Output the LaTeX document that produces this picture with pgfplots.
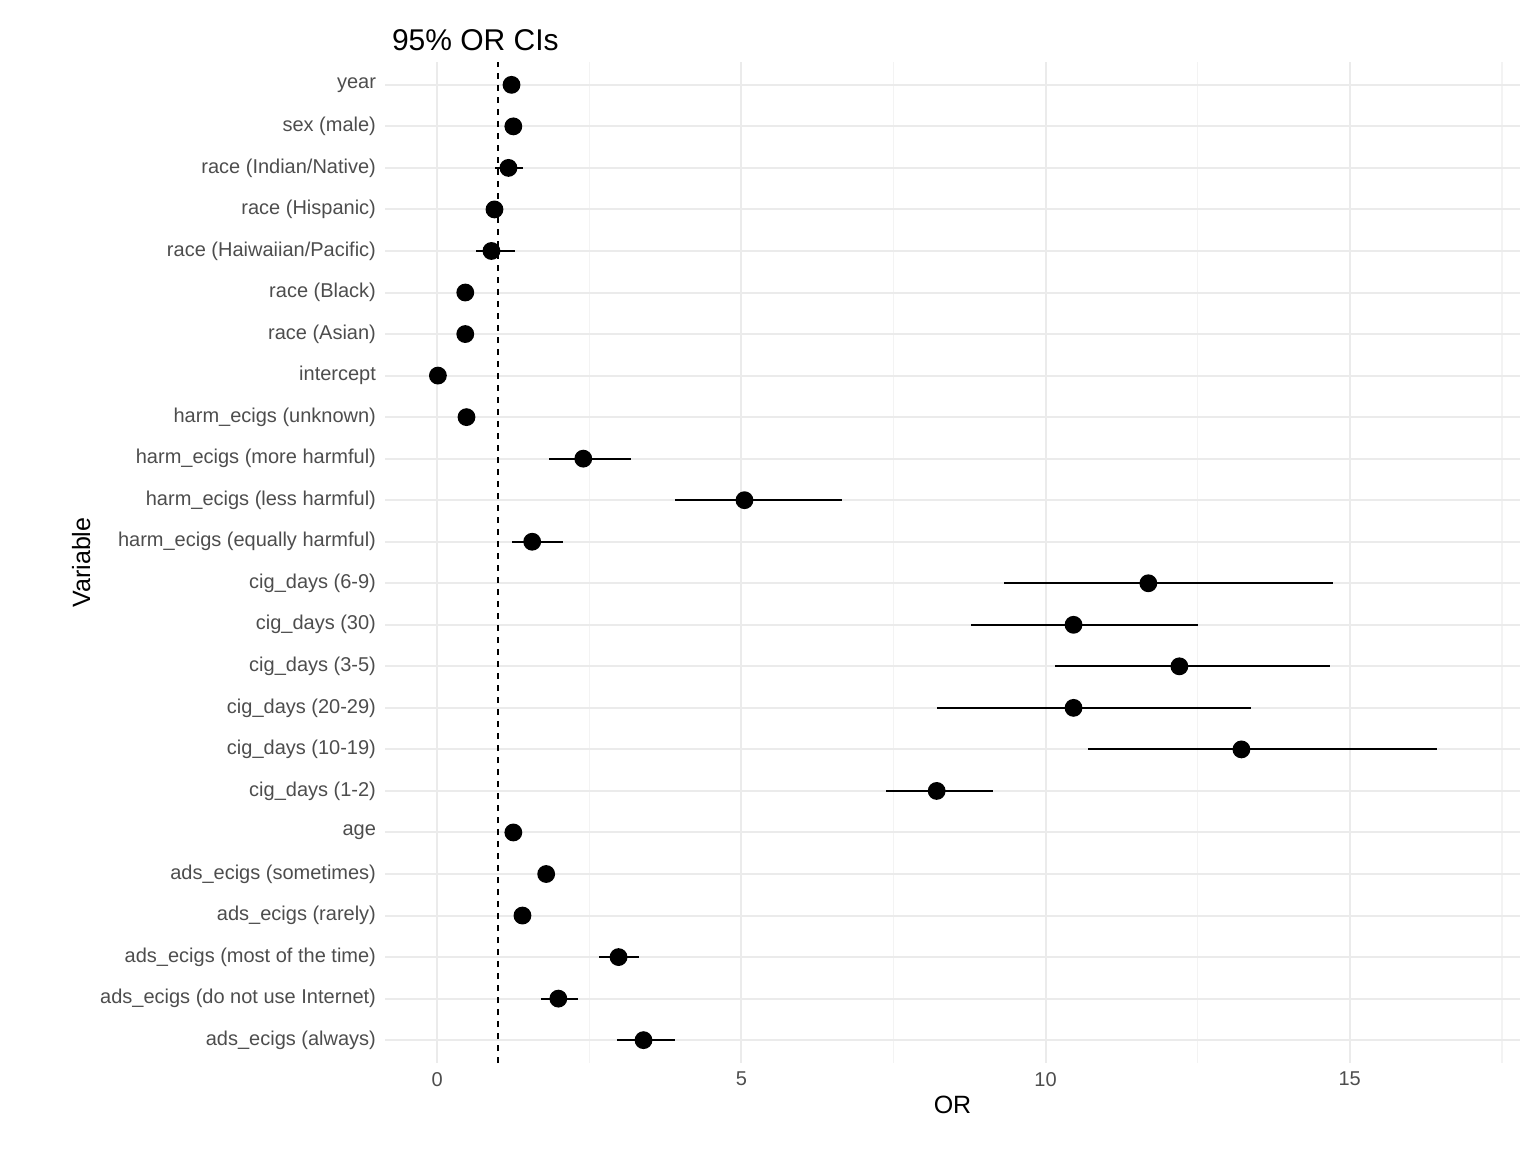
\documentclass[border=0pt]{standalone}
\usepackage{fontspec}
\setmainfont{Liberation Sans}
\usepackage{pgfplots}
\pgfplotsset{compat=1.18}
\usepackage{pgfplotstable}
\definecolor{gmaj}{HTML}{EBEBEB}
\definecolor{gmin}{HTML}{F3F3F3}
\definecolor{tickc}{HTML}{4D4D4D}
\pgfplotstableread{
y x lo hi
0 3.39 2.96 3.90
1 1.99 1.71 2.32
2 2.98 2.66 3.32
3 1.40 1.35 1.45
4 1.79 1.74 1.84
5 1.25 1.20 1.30
6 8.21 7.37 9.14
7 13.22 10.69 16.43
8 10.46 8.21 13.37
9 12.20 10.16 14.67
10 10.46 8.77 12.50
11 11.69 9.31 14.72
12 1.56 1.22 2.06
13 5.05 3.91 6.66
14 2.40 1.83 3.19
15 0.48 0.45 0.51
16 0.01 0.00 0.02
17 0.46 0.43 0.49
18 0.46 0.43 0.49
19 0.89 0.63 1.27
20 0.94 0.90 0.98
21 1.17 0.95 1.41
22 1.25 1.20 1.30
23 1.22 1.17 1.27
}\data
\pgfplotstablecreatecol[expr={\thisrow{x}-\thisrow{lo}}]{em}{\data}
\pgfplotstablecreatecol[expr={\thisrow{hi}-\thisrow{x}}]{ep}{\data}
\begin{document}
\begin{tikzpicture}
\begin{axis}[
  scale only axis, width=567.5pt, height=500.5pt,
  xmin=-0.86, xmax=17.8, ymin=-0.55, ymax=23.55,
  axis line style={draw=none},
  tick style={draw=none},
  xtick={0,5,10,15}, minor xtick={2.5,7.5,12.5,17.5},
  ytick={0,...,23},
  yticklabels={ads\_ecigs (always),ads\_ecigs (do not use Internet),ads\_ecigs (most of the time),ads\_ecigs (rarely),ads\_ecigs (sometimes),age,cig\_days (1-2),cig\_days (10-19),cig\_days (20-29),cig\_days (3-5),cig\_days (30),cig\_days (6-9),harm\_ecigs (equally harmful),harm\_ecigs (less harmful),harm\_ecigs (more harmful),harm\_ecigs (unknown),intercept,race (Asian),race (Black),race (Haiwaiian/Pacific),race (Hispanic),race (Indian/Native),sex (male),year},
  xmajorgrids, xminorgrids, ymajorgrids,
  major grid style={gmaj, line width=1pt},
  minor grid style={gmin, line width=0.8pt},
  ticklabel style={font=\fontsize{10}{12}\selectfont, text=tickc},
  /pgf/number format/assume math mode=true,
  yticklabel style={xshift=-1pt},
  xticklabel style={yshift=-1pt},
  xlabel={OR}, ylabel={Variable},
  label style={font=\fontsize{12.5}{14}\selectfont},
  xlabel style={yshift=2pt},
  ylabel style={yshift=-2pt},
  title={95\% OR CIs},
  title style={at={(0,1)}, anchor=south west, font=\fontsize{15}{17}\selectfont, yshift=-4pt},
  clip=false,
]
\addplot[black, dashed, line width=1pt] coordinates {(1,-0.55) (1,23.55)};
\addplot[black, line width=0.9pt, only marks, mark=*, mark size=4pt,
  error bars/.cd, x dir=both, x explicit, error mark=none,
  error bar style={line width=1pt}]
  table[x=x, y=y, x error minus=em, x error plus=ep]{\data};
\end{axis}
\pgfresetboundingbox
\path (-192.5pt,-44.5pt) rectangle (575.5pt,531.5pt);
\end{tikzpicture}
\end{document}
